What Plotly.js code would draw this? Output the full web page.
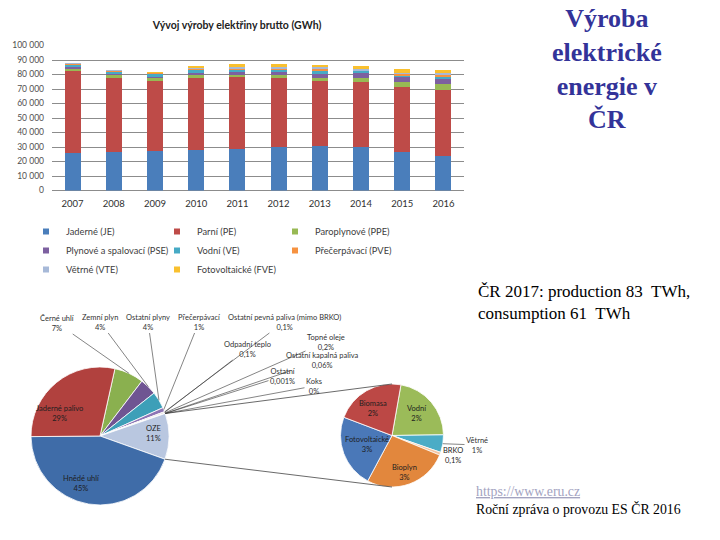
<!DOCTYPE html>
<html><head><meta charset="utf-8">
<script src="https://cdn.plot.ly/plotly-3.0.1.min.js"></script>
<style>html,body{margin:0;padding:0;background:#fff}#chart{width:720px;height:540px}</style>
</head><body><div id="chart"></div>
<script>
// ---------- DATA ----------
const years = ['2007','2008','2009','2010','2011','2012','2013','2014','2015','2016'];
const seriesNames = ['Jaderné (JE)','Parní (PE)','Paroplynové (PPE)','Plynové a spalovací (PSE)','Vodní (VE)','Přečerpávací (PVE)','Větrné (VTE)','Fotovoltaické (FVE)'];
const jaderne      = [26200,26600,27200,28000,28300,30300,30700,30300,26800,24100];
const parni        = [56500,50900,48000,49800,49700,47200,44500,44200,44700,45400];
const paroplynove  = [1900,2600,2800,2500,2400,2300,2300,2800,3000,4200];
const plynove      = [300,400,500,600,1100,1800,3000,3600,3500,3300];
const vodni        = [2100,2000,2400,3000,2300,2400,2800,1900,1800,2000];
const precerpavaci = [1000,600,600,700,800,700,1100,600,900,1200];
const vetrne       = [100,200,300,300,400,400,500,500,600,500];
const fotovolt     = [0,0,100,800,2200,2200,2000,2100,2300,2200];
const yTicks = [0,10000,20000,30000,40000,50000,60000,70000,80000,90000,100000];

// main pie (share of gross production 2016, %)
const mainLabels = ['Černé uhlí','Zemní plyn','Ostatní plyny','Přečerpávací','Ostatní pevná paliva (mimo BRKO)','Odpadní teplo','Topné oleje','Ostatní kapalná paliva','Ostatní','Koks','OZE','Hnědé uhlí','Jaderné palivo'];
const mainValues = [7,4,4,1,0.1,0.1,0.2,0.06,0.001,0,null,45,29];
const mainPctText = ['7%','4%','4%','1%','0,1%','0,1%','0,2%','0,06%','0,001%','0%','11%','45%','29%'];
// secondary pie (OZE breakdown, % of total)
const subLabels = ['Vodní','Větrné','BRKO','Bioplyn','Fotovoltaické','Biomasa'];
const subValues = [2.4,0.6,0.1,2.9,2.5,2.4];
const subPctText = ['2%','1%','0,1%','3%','3%','2%'];

// ---------- STYLE ----------
const W = 720, H = 540;
const barColors = ['#4A7EBB','#BE4B48','#98B954','#7D60A0','#46AAC5','#F69240','#A7B9D8','#F9C02E'];
const mainColors = ['#8AB04F','#6F5592','#3D9FB8','#8E75B5','#F79646','#2C4D75','#772C2A','#5F7530','#4D3B62','#276A7C','#B9C7E0','#3F6CA8','#B1413E'];
const subColors = ['#9BBB59','#4BACC6','#F2C4A0','#E2873D','#4A78B8','#BC4845'];
const sans = 'Lato, "Open Sans", sans-serif';
const serif = '"Liberation Serif", "DejaVu Serif", serif';

const series = [jaderne,parni,paroplynove,plynove,vodni,precerpavaci,vetrne,fotovolt];
const legendIds = ['legend','legend2','legend3'];
const traces = [];
series.forEach((vals,i)=>{
  traces.push({type:'bar', x:years, y:vals, name:seriesNames[i], marker:{color:barColors[i]}, showlegend:false, hoverinfo:'x+y+name'});
});
series.forEach((vals,i)=>{
  traces.push({type:'scatter', x:[null], y:[null], mode:'markers', name:seriesNames[i],
    marker:{symbol:'square', size:6, color:barColors[i]}, legend:legendIds[i%3], showlegend:true, hoverinfo:'skip'});
});

// pies
const mainVals = mainValues.slice();
const oziIdx = mainLabels.indexOf('OZE');
mainVals[oziIdx] = subValues.reduce((a,b)=>a+b,0);
const mainC = {cx:100, cy:436, r:69, rot:12.5};
const subC = {cx:392, cy:435.5, r:51.5, rot:10};
function dom(c){return {x:[(c.cx-c.r)/W,(c.cx+c.r)/W], y:[(H-(c.cy+c.r))/H,(H-(c.cy-c.r))/H]};}
traces.push({type:'pie', labels:mainLabels, values:mainVals, sort:false, direction:'clockwise', rotation:mainC.rot,
  domain:dom(mainC), marker:{colors:mainColors, line:{color:'#ffffff', width:0.8}}, textinfo:'none', showlegend:false, hoverinfo:'label+percent'});
traces.push({type:'pie', labels:subLabels, values:subValues, sort:false, direction:'clockwise', rotation:subC.rot,
  domain:dom(subC), marker:{colors:subColors, line:{color:'#ffffff', width:0.8}}, textinfo:'none', showlegend:false, hoverinfo:'label+percent'});

function angles(vals, rot){
  const tot = vals.reduce((a,b)=>a+(b||0),0); let a = rot; const out=[];
  vals.forEach(v=>{const s=a; a += (v||0)/tot*360; out.push([s,a]);});
  return out;
}
function edge(c, deg, rr){const t=deg*Math.PI/180; const r=(rr||c.r); return [c.cx + r*Math.sin(t), c.cy - r*Math.cos(t)];}
const mainAng = angles(mainVals, mainC.rot);
const subAng = angles(subValues, subC.rot);

const annotations = [];
function leader(text, target, lx, ly){
  annotations.push({xref:'paper', yref:'paper', x:target[0]/W, y:1-target[1]/H, ax:lx-target[0], ay:ly-target[1],
    text:text, showarrow:true, arrowhead:0, arrowwidth:0.6, arrowcolor:'#333', standoff:0,
    font:{family:sans, size:7.5, color:'#333'}, align:'center'});
}
function label(text, x, y){
  annotations.push({xref:'paper', yref:'paper', x:x/W, y:1-y/H, text:text, showarrow:false,
    font:{family:sans, size:7.5, color:'#1e1e1e'}, align:'center', xanchor:'center', yanchor:'middle'});
}
const mid = (ang,i)=> (ang[i][0]+ang[i][1])/2;
// label positions (pixels) for outside main-pie labels
const mainOutPos = {0:[57,323],1:[100,322],2:[148,322],3:[199,322],4:[284,322],5:[247,349],6:[326,342],7:[322,360],8:[283,376],9:[314,386]};
Object.keys(mainOutPos).forEach(k=>{
  const i=+k; const p=mainOutPos[k];
  leader(mainLabels[i]+'<br>'+mainPctText[i], edge(mainC, mid(mainAng,i)), p[0], p[1]);
});
label(mainLabels[12]+'<br>'+mainPctText[12], 59, 413);
label(mainLabels[11]+'<br>'+mainPctText[11], 81, 483);
label(mainLabels[10]+'<br>'+mainPctText[10], 153, 433);
// secondary pie labels
label(subLabels[5]+'<br>'+subPctText[5], 373, 408);
label(subLabels[0]+'<br>'+subPctText[0], 417, 413);
label(subLabels[4]+'<br>'+subPctText[4], 367, 444);
label(subLabels[3]+'<br>'+subPctText[3], 404, 472);
label(subLabels[2]+'<br>'+subPctText[2], 453, 455);
leader(subLabels[1]+'<br>'+subPctText[1], edge(subC, mid(subAng,1)), 477, 445);

// slide texts
annotations.push({xref:'paper', yref:'paper', x:607/W, y:1-69/H, xanchor:'center', yanchor:'middle', showarrow:false,
  text:'<b>Výroba<br>elektrické<br>energie v<br>ČR</b>', font:{family:serif, size:26, color:'#333399'}, align:'center'});
annotations.push({xref:'paper', yref:'paper', x:476/W, y:1-302/H, xanchor:'left', yanchor:'middle', showarrow:false,
  text:'ČR 2017: production 83\u00a0 TWh,<br>consumption 61\u00a0 TWh', font:{family:serif, size:17, color:'#000'}, align:'left'});
annotations.push({xref:'paper', yref:'paper', x:474/W, y:1-500/H, xanchor:'left', yanchor:'middle', showarrow:false,
  text:'<span style="text-decoration:underline;color:#a3a3bf">https://www.eru.cz</span><br>Roční zpráva o provozu ES ČR 2016',
  font:{family:serif, size:13.8, color:'#000'}, align:'left'});

// connector lines main pie (OZE slice) -> secondary pie
const up = edge(mainC, mainAng[oziIdx][0]);
const lo = edge(mainC, mainAng[oziIdx][1]);
const shapes = [
  {type:'line', xref:'paper', yref:'paper', x0:up[0]/W, y0:1-up[1]/H, x1:subC.cx/W, y1:1-(subC.cy-subC.r)/H, line:{color:'#444', width:0.8}},
  {type:'line', xref:'paper', yref:'paper', x0:lo[0]/W, y0:1-lo[1]/H, x1:subC.cx/W, y1:1-(subC.cy+subC.r)/H, line:{color:'#444', width:0.8}}
];

const legCommon = {orientation:'v', bgcolor:'rgba(0,0,0,0)', borderwidth:0, font:{family:sans, size:9.3, color:'#404040'},
  xanchor:'left', yanchor:'top', traceorder:'normal', itemclick:false, itemdoubleclick:false};
const layout = {
  width:W, height:H, margin:{l:0,r:0,t:0,b:0}, paper_bgcolor:'#fff', plot_bgcolor:'#fff',
  separators:', ', barmode:'stack', bargap:0.61, hovermode:'closest',
  title:{text:'<b>Vývoj výroby elektřiny brutto (GWh)</b>', font:{family:sans, size:10.5, color:'#222'},
    x:237/W, xanchor:'center', y:1-25/H, yanchor:'middle'},
  xaxis:{domain:[52/W, 464/W], anchor:'y', type:'category', categoryarray:years, showgrid:false, zeroline:false,
    showline:false, ticks:'', ticklabelstandoff:6, tickfont:{family:sans, size:9.5, color:'#303030'}, fixedrange:true},
  yaxis:{domain:[(H-190.5)/H, (H-45.5)/H], anchor:'x', range:[0,100000], tickvals:yTicks, tickformat:',d',
    showgrid:true, gridcolor:'#8c8c8c', gridwidth:1, zeroline:true, zerolinecolor:'#8c8c8c', zerolinewidth:1,
    showline:false, ticks:'', ticklabelstandoff:7, tickfont:{family:sans, size:8.5, color:'#505050'}, fixedrange:true},
  legend:Object.assign({}, legCommon, {x:26/W, y:1-217/H}),
  legend2:Object.assign({}, legCommon, {x:157/W, y:1-217/H}),
  legend3:Object.assign({}, legCommon, {x:275/W, y:1-217/H}),
  annotations:annotations, shapes:shapes
};
Plotly.newPlot('chart', traces, layout, {displayModeBar:false, staticPlot:false});
</script></body></html>
